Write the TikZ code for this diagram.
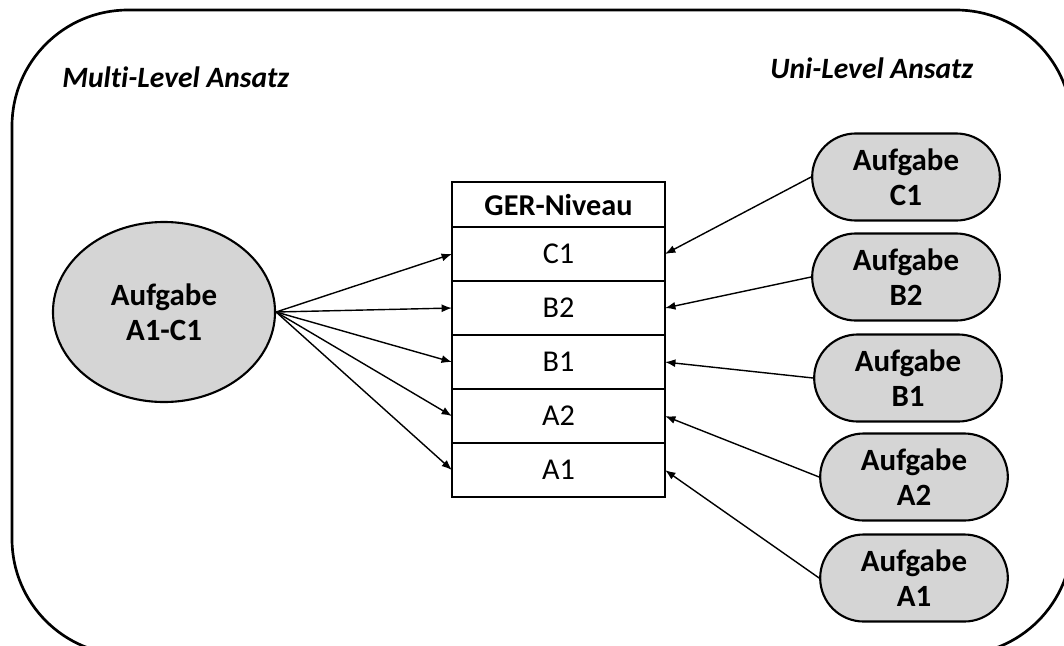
\documentclass[tikz,border=0pt]{standalone}
\usepackage{fontspec}
\setmainfont{Carlito}[Ligatures=NoCommon]
\usetikzlibrary{arrows.meta,positioning,shapes.geometric,shapes.misc}
\tikzset{
	>={Latex[length=2.6mm,width=2mm]},
	aufgabe/.style={draw, line width=1.5pt, fill=gray!33, align=center,
		font=\fontsize{22}{25}\selectfont\bfseries},
	stufe/.style={draw, line width=1.5pt, minimum width=5.325cm,
		minimum height=1.35cm, outer sep=0pt,
		font=\fontsize{21.5}{25}\selectfont},
	titel/.style={inner sep=0pt, anchor=base west,
		font=\fontsize{21}{25}\selectfont\bfseries\itshape},
	pfeil/.style={->, line width=1pt}
}

\begin{document}
\begin{tikzpicture}[x=0.025cm,y=-0.025cm]
	\useasboundingbox (0,0) rectangle (1064,645);
	
	% outer frame
	\draw[line width=1.9pt,rounded corners=2.9cm] (12,10) rectangle (1072,655);
	
	% headings
	\node[titel] (multi) at (62,87) {Multi-Level Ansatz};
	\node[titel] (uni) at (770,78) {Uni-Level Ansatz};
	
	% one task for all levels
	\node[aufgabe,ellipse,minimum width=5.55cm,minimum height=4.5cm]
		(alle) at (164,312) {Aufgabe\\A1-C1};
	
	% level table
	\node[stufe,minimum height=1.125cm,font=\fontsize{21.5}{25}\selectfont\bfseries]
		(ger) at (558.5,204.5) {GER-Niveau};
	\foreach \n [remember=\n as \last (initially ger)] in {C1,B2,B1,A2,A1}
		\node[stufe,below=0pt of \last] (\n) {\n};
	
	% one task per level
	\foreach \n/\px/\py in {C1/906/177,B2/906/277,B1/908/378,A2/914/477,A1/914/578}
		\node[aufgabe,rounded rectangle,minimum width=4.925cm,minimum height=2.175cm]
			(u\n) at (\px,\py) {Aufgabe\\\n};
	
	% arrows
	\foreach \n in {C1,B2,B1,A2,A1}{
		\draw[pfeil] (alle.east) -- (\n.west);
		\draw[pfeil] (u\n.west) -- (\n.east);
	}
	
\end{tikzpicture}
\end{document}
